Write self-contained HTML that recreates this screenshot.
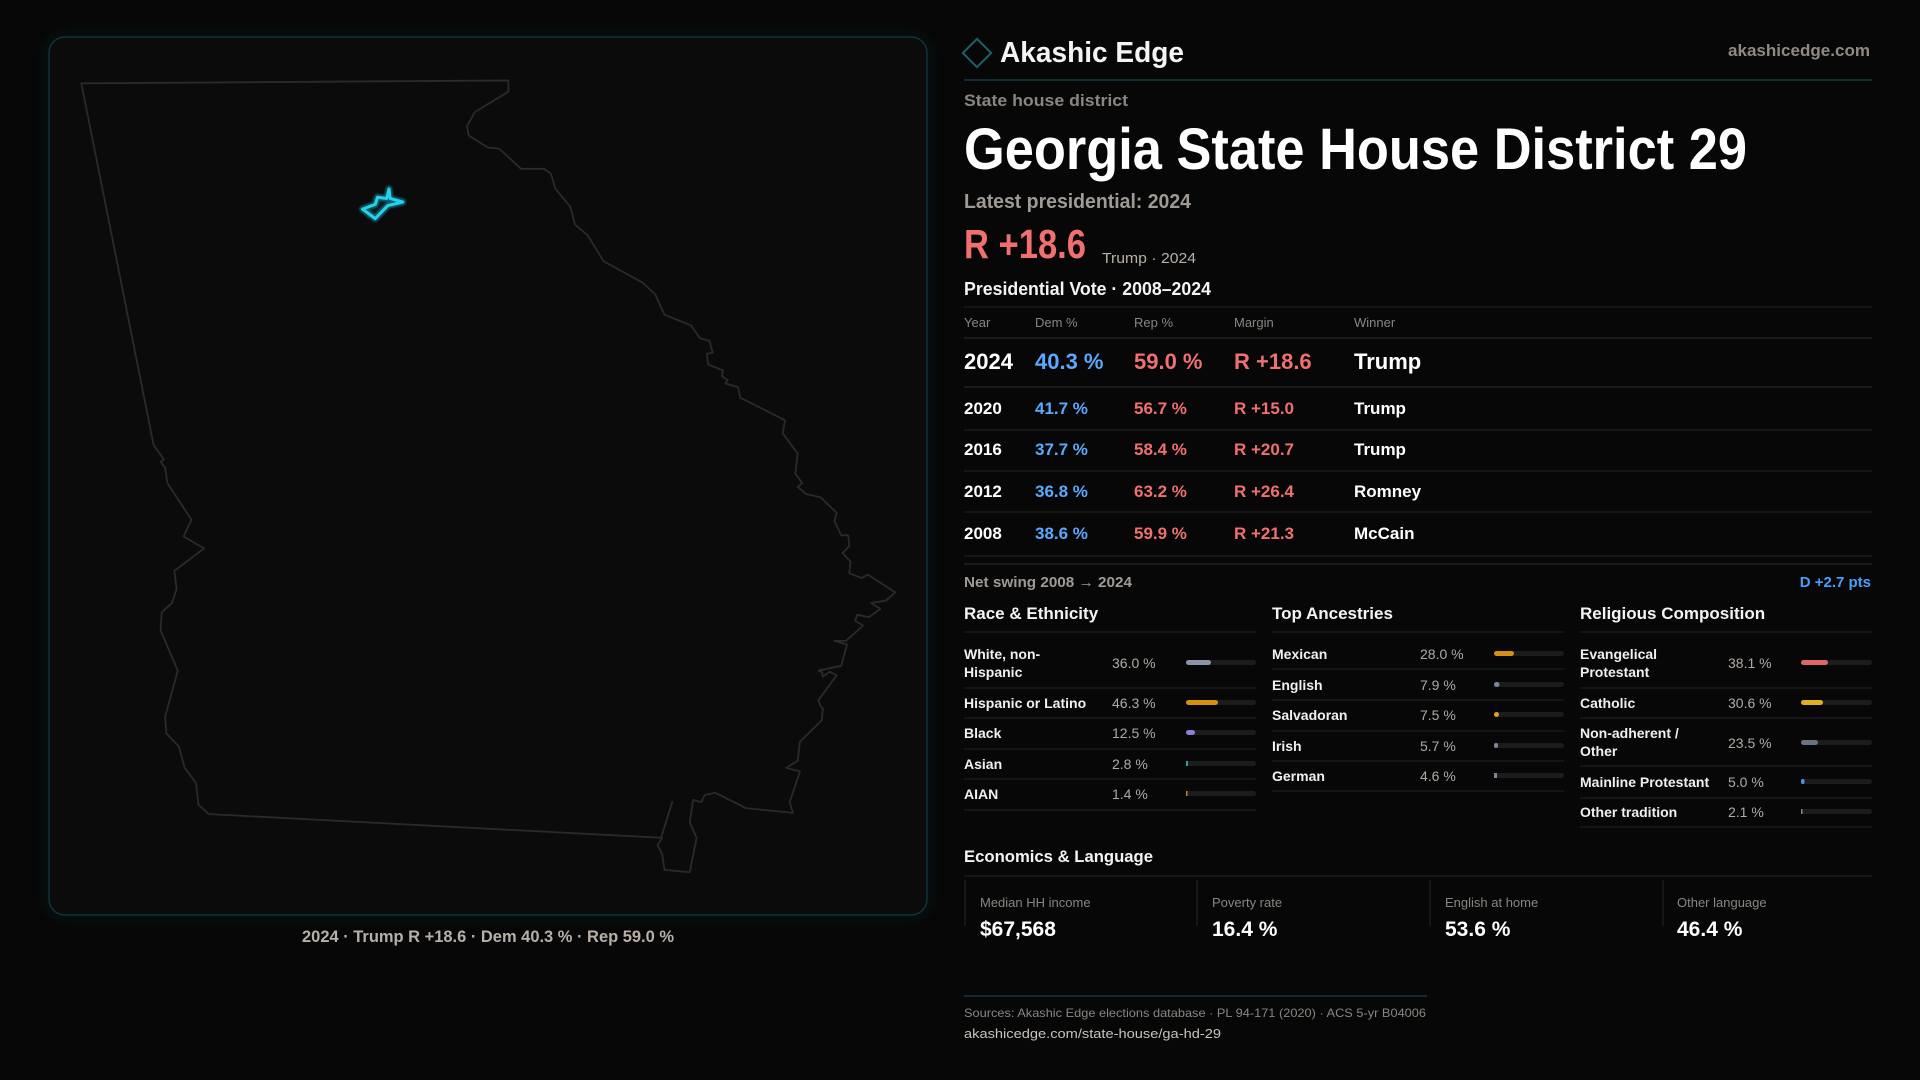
<!DOCTYPE html>
<html><head><meta charset="utf-8"><style>
html,body{margin:0;padding:0;background:#070707;width:1920px;height:1080px;overflow:hidden}
svg{display:block}
text{font-family:"Liberation Sans",sans-serif}
</style></head><body>
<svg width="1920" height="1080" viewBox="0 0 1920 1080" xmlns="http://www.w3.org/2000/svg">
<defs>
<filter id="glow" x="-50%" y="-50%" width="200%" height="200%"><feGaussianBlur stdDeviation="1.5"/></filter>
<filter id="pglow" x="-5%" y="-5%" width="110%" height="110%"><feGaussianBlur stdDeviation="6"/></filter>
</defs>
<rect width="1920" height="1080" fill="#070707"/>
<!-- map panel -->
<rect x="49" y="37" width="878" height="878" rx="16" fill="none" stroke="#0d3a40" stroke-width="6" opacity="0.35" filter="url(#pglow)"/>
<rect x="49" y="37" width="878" height="878" rx="16" fill="#0b0b0c" stroke="#123c42" stroke-width="1.2"/>
<svg x="40" y="30" width="900" height="930" viewBox="0 0 1568 1568" preserveAspectRatio="none">
<polygon fill="none" stroke="#2a2a2c" stroke-width="1.8" vector-effect="non-scaling-stroke" stroke-linejoin="round" points="72,90 816,85 816,104 758,138 744,162 747,178 780,198 800,200 838,234 878,234 890,242 898,268 924,298 932,328 954,346 982,390 1050,426 1072,446 1088,480 1134,498 1150,520 1166,524 1172,544 1162,546 1164,564 1190,574 1188,584 1198,590 1194,596 1216,602 1220,620 1298,658 1294,680 1320,714 1316,748 1328,764 1320,770 1334,782 1360,788 1388,814 1384,828 1396,852 1408,852 1410,870 1398,882 1412,896 1410,916 1432,924 1442,918 1490,948 1474,962 1448,966 1464,976 1444,990 1424,986 1420,996 1434,1004 1404,1030 1384,1030 1406,1036 1396,1072 1356,1080 1362,1082 1364,1090 1376,1082 1388,1088 1356,1130 1360,1140 1364,1144 1362,1164 1324,1200 1320,1232 1300,1244 1324,1250 1306,1302 1312,1320 1230,1312 1176,1286 1158,1290 1152,1302 1138,1298 1132,1336 1144,1362 1132,1420 1088,1416 1084,1390 1076,1374 1084,1362 294,1322 276,1306 272,1270 252,1244 242,1208 220,1186 218,1158 240,1080 210,1012 212,982 230,966 238,942 234,912 286,874 250,854 264,826 222,764 218,738 210,728 216,724 198,700"/>
<polyline fill="none" stroke="#2a2a2c" stroke-width="1.8" vector-effect="non-scaling-stroke" points="1102,1300 1082,1362"/>
<polygon fill="none" stroke="#1a7f8f" stroke-width="7" opacity="0.6" vector-effect="non-scaling-stroke" stroke-linejoin="round" filter="url(#glow)" points="562,302 584,318 606,296 632,290 610,284 608,268 604,284 588,282 584,294"/>
<polygon fill="rgba(34,211,238,0.08)" stroke="#22d3ee" stroke-width="3" vector-effect="non-scaling-stroke" stroke-linejoin="round" points="562,302 584,318 606,296 632,290 610,284 608,268 604,284 588,282 584,294"/>
</svg>
<text x="488" y="942" text-anchor="middle" font-size="17" font-weight="bold" fill="#b8b0a8" textLength="372" lengthAdjust="spacingAndGlyphs">2024 · Trump R +18.6 · Dem 40.3 % · Rep 59.0 %</text>

<!-- header -->
<rect x="967" y="43" width="20" height="20" transform="rotate(45 977 53)" fill="none" stroke="#1f5f6a" stroke-width="2"/>
<text x="1000" y="62" font-size="29" font-weight="bold" fill="#f4f4f4" textLength="184" lengthAdjust="spacingAndGlyphs">Akashic Edge</text>
<text x="1870" y="56" text-anchor="end" font-size="17" font-weight="bold" fill="#8f8a85" textLength="142" lengthAdjust="spacingAndGlyphs">akashicedge.com</text>
<line x1="964" y1="80" x2="1872" y2="80" stroke="#12393f" stroke-width="1.5"/>
<text x="964" y="106" font-size="17" font-weight="bold" fill="#8a8580" textLength="164" lengthAdjust="spacingAndGlyphs">State house district</text>
<text x="964" y="169" font-size="58" font-weight="bold" fill="#ffffff" textLength="783" lengthAdjust="spacingAndGlyphs">Georgia State House District 29</text>
<text x="964" y="208" font-size="20" font-weight="bold" fill="#a09a94" textLength="227" lengthAdjust="spacingAndGlyphs">Latest presidential: 2024</text>
<text x="964" y="258" font-size="41" font-weight="bold" fill="#f07070" textLength="122" lengthAdjust="spacingAndGlyphs">R +18.6</text>
<text x="1102" y="263" font-size="15" fill="#b8b0a8" textLength="94" lengthAdjust="spacingAndGlyphs">Trump · 2024</text>
<text x="964" y="295" font-size="18" font-weight="bold" fill="#f4f4f4" textLength="247" lengthAdjust="spacingAndGlyphs">Presidential Vote · 2008–2024</text>
<g stroke="#1e1e1e" stroke-width="1.2">
<line x1="964" y1="307" x2="1872" y2="307"/><line x1="964" y1="338" x2="1872" y2="338" stroke="#262626"/>
<line x1="964" y1="387" x2="1872" y2="387" stroke="#262626"/><line x1="964" y1="430" x2="1872" y2="430"/>
<line x1="964" y1="471" x2="1872" y2="471"/><line x1="964" y1="512" x2="1872" y2="512"/>
<line x1="964" y1="556" x2="1872" y2="556"/><line x1="964" y1="564" x2="1872" y2="564" stroke="#262626"/>
</g>
<g font-size="13" fill="#8a8580">
<text x="964" y="327">Year</text><text x="1035" y="327">Dem %</text><text x="1134" y="327">Rep %</text><text x="1234" y="327">Margin</text><text x="1354" y="327">Winner</text>
</g>
<g font-size="22" font-weight="bold">
<text x="964" y="369" fill="#fff">2024</text><text x="1035" y="369" fill="#5aa9ff">40.3 %</text><text x="1134" y="369" fill="#f07070">59.0 %</text><text x="1234" y="369" fill="#f07070">R +18.6</text><text x="1354" y="369" fill="#fff">Trump</text>
</g>
<g font-size="17" font-weight="bold">
<text x="964" y="414" fill="#fff">2020</text><text x="1035" y="414" fill="#5aa9ff">41.7 %</text><text x="1134" y="414" fill="#f07070">56.7 %</text><text x="1234" y="414" fill="#f07070">R +15.0</text><text x="1354" y="414" fill="#fff">Trump</text>
<text x="964" y="455" fill="#fff">2016</text><text x="1035" y="455" fill="#5aa9ff">37.7 %</text><text x="1134" y="455" fill="#f07070">58.4 %</text><text x="1234" y="455" fill="#f07070">R +20.7</text><text x="1354" y="455" fill="#fff">Trump</text>
<text x="964" y="497" fill="#fff">2012</text><text x="1035" y="497" fill="#5aa9ff">36.8 %</text><text x="1134" y="497" fill="#f07070">63.2 %</text><text x="1234" y="497" fill="#f07070">R +26.4</text><text x="1354" y="497" fill="#fff">Romney</text>
<text x="964" y="539" fill="#fff">2008</text><text x="1035" y="539" fill="#5aa9ff">38.6 %</text><text x="1134" y="539" fill="#f07070">59.9 %</text><text x="1234" y="539" fill="#f07070">R +21.3</text><text x="1354" y="539" fill="#fff">McCain</text>
</g>
<text x="964" y="587" font-size="15" font-weight="bold" fill="#a09a94" textLength="168" lengthAdjust="spacingAndGlyphs">Net swing 2008 → 2024</text>
<text x="1871" y="587" text-anchor="end" font-size="15" font-weight="bold" fill="#4a9eff">D +2.7 pts</text>

<!-- sections -->
<g font-size="17" font-weight="bold" fill="#f4f4f4">
<text x="964" y="619">Race &amp; Ethnicity</text><text x="1272" y="619">Top Ancestries</text><text x="1580" y="619">Religious Composition</text>
</g>
<g stroke="#1e1e1e" stroke-width="1.2">
<line x1="964" y1="632" x2="1256" y2="632"/><line x1="1272" y1="632" x2="1564" y2="632"/><line x1="1580" y1="632" x2="1872" y2="632"/>
</g>
<g transform="translate(0,4)">
<g stroke="#1e1e1e" stroke-width="1.2">
<line x1="964" y1="684" x2="1256" y2="684"/><line x1="964" y1="714" x2="1256" y2="714"/><line x1="964" y1="745" x2="1256" y2="745"/><line x1="964" y1="775" x2="1256" y2="775"/><line x1="964" y1="806" x2="1256" y2="806"/>
<line x1="1272" y1="665" x2="1564" y2="665"/><line x1="1272" y1="696" x2="1564" y2="696"/><line x1="1272" y1="727" x2="1564" y2="727"/><line x1="1272" y1="757" x2="1564" y2="757"/><line x1="1272" y1="787" x2="1564" y2="787"/>
<line x1="1580" y1="684" x2="1872" y2="684"/><line x1="1580" y1="714" x2="1872" y2="714"/><line x1="1580" y1="762" x2="1872" y2="762"/><line x1="1580" y1="794" x2="1872" y2="794"/><line x1="1580" y1="823" x2="1872" y2="823"/>
</g>
<g font-size="14" font-weight="bold" fill="#f0f0f0">
<text x="964" y="655">White, non-</text><text x="964" y="673">Hispanic</text>
<text x="964" y="704">Hispanic or Latino</text><text x="964" y="734">Black</text><text x="964" y="765">Asian</text><text x="964" y="795">AIAN</text>
<text x="1272" y="655">Mexican</text><text x="1272" y="686">English</text><text x="1272" y="716">Salvadoran</text><text x="1272" y="747">Irish</text><text x="1272" y="777">German</text>
<text x="1580" y="655">Evangelical</text><text x="1580" y="673">Protestant</text><text x="1580" y="704">Catholic</text>
<text x="1580" y="734">Non-adherent /</text><text x="1580" y="752">Other</text><text x="1580" y="783">Mainline Protestant</text><text x="1580" y="813">Other tradition</text>
</g>
<g font-size="14" fill="#b0aaa4">
<text x="1112" y="664">36.0 %</text><text x="1112" y="704">46.3 %</text><text x="1112" y="734">12.5 %</text><text x="1112" y="765">2.8 %</text><text x="1112" y="795">1.4 %</text>
<text x="1420" y="655">28.0 %</text><text x="1420" y="686">7.9 %</text><text x="1420" y="716">7.5 %</text><text x="1420" y="747">5.7 %</text><text x="1420" y="777">4.6 %</text>
<text x="1728" y="664">38.1 %</text><text x="1728" y="704">30.6 %</text><text x="1728" y="744">23.5 %</text><text x="1728" y="783">5.0 %</text><text x="1728" y="813">2.1 %</text>
</g>
</g>
<g transform="translate(0,3)">
<g fill="#1c1c1c">
<rect x="1186" y="657" width="70" height="5" rx="2.5"/><rect x="1186" y="697" width="70" height="5" rx="2.5"/><rect x="1186" y="727" width="70" height="5" rx="2.5"/><rect x="1186" y="758" width="70" height="5" rx="2.5"/><rect x="1186" y="788" width="70" height="5" rx="2.5"/>
<rect x="1494" y="648" width="70" height="5" rx="2.5"/><rect x="1494" y="679" width="70" height="5" rx="2.5"/><rect x="1494" y="709" width="70" height="5" rx="2.5"/><rect x="1494" y="740" width="70" height="5" rx="2.5"/><rect x="1494" y="770" width="70" height="5" rx="2.5"/>
<rect x="1801" y="657" width="71" height="5" rx="2.5"/><rect x="1801" y="697" width="71" height="5" rx="2.5"/><rect x="1801" y="737" width="71" height="5" rx="2.5"/><rect x="1801" y="776" width="71" height="5" rx="2.5"/><rect x="1801" y="806" width="71" height="5" rx="2.5"/>
</g>
<rect x="1186" y="657" width="25" height="5" rx="2.5" fill="#8a94a6"/>
<rect x="1186" y="697" width="32" height="5" rx="2.5" fill="#d4900e"/>
<rect x="1186" y="727" width="9" height="5" rx="2.5" fill="#8b7fd6"/>
<rect x="1186" y="758" width="2" height="5" fill="#2aa198"/>
<rect x="1186" y="788" width="1.5" height="5" fill="#d97b2a"/>
<rect x="1494" y="648" width="20" height="5" rx="2.5" fill="#d4900e"/>
<rect x="1494" y="679" width="5.5" height="5" rx="2.5" fill="#7b8899"/>
<rect x="1494" y="709" width="5" height="5" rx="2.5" fill="#e0a020"/>
<rect x="1494" y="740" width="4" height="5" rx="2" fill="#7b8899"/>
<rect x="1494" y="770" width="3" height="5" fill="#7b8899"/>
<rect x="1801" y="657" width="27" height="5" rx="2.5" fill="#e06666"/>
<rect x="1801" y="697" width="22" height="5" rx="2.5" fill="#e0b020"/>
<rect x="1801" y="737" width="17" height="5" rx="2.5" fill="#6b7280"/>
<rect x="1801" y="776" width="3.5" height="5" rx="1.5" fill="#4a8fe0"/>
<rect x="1801" y="806" width="1.5" height="5" fill="#7b8899"/>
</g>

<!-- economics -->
<text x="964" y="862" font-size="17" font-weight="bold" fill="#f4f4f4" textLength="189" lengthAdjust="spacingAndGlyphs">Economics &amp; Language</text>
<line x1="964" y1="876" x2="1872" y2="876" stroke="#1e1e1e" stroke-width="1.2"/>
<g stroke="#222" stroke-width="1.2">
<line x1="965" y1="880" x2="965" y2="926"/><line x1="1197" y1="880" x2="1197" y2="926"/><line x1="1430" y1="880" x2="1430" y2="926"/><line x1="1663" y1="880" x2="1663" y2="926"/>
</g>
<g font-size="13" fill="#8a8580">
<text x="980" y="907">Median HH income</text><text x="1212" y="907">Poverty rate</text><text x="1445" y="907">English at home</text><text x="1677" y="907">Other language</text>
</g>
<g font-size="21" font-weight="bold" fill="#ffffff">
<text x="980" y="936">$67,568</text><text x="1212" y="936">16.4 %</text><text x="1445" y="936">53.6 %</text><text x="1677" y="936">46.4 %</text>
</g>
<line x1="964" y1="996" x2="1427" y2="996" stroke="#12393f" stroke-width="1.5"/>
<text x="964" y="1017" font-size="12" fill="#8a8580" textLength="462" lengthAdjust="spacingAndGlyphs">Sources: Akashic Edge elections database · PL 94-171 (2020) · ACS 5-yr B04006</text>
<text x="964" y="1038" font-size="13" fill="#c8c2bc" textLength="257" lengthAdjust="spacingAndGlyphs">akashicedge.com/state-house/ga-hd-29</text>
</svg>
</body></html>
